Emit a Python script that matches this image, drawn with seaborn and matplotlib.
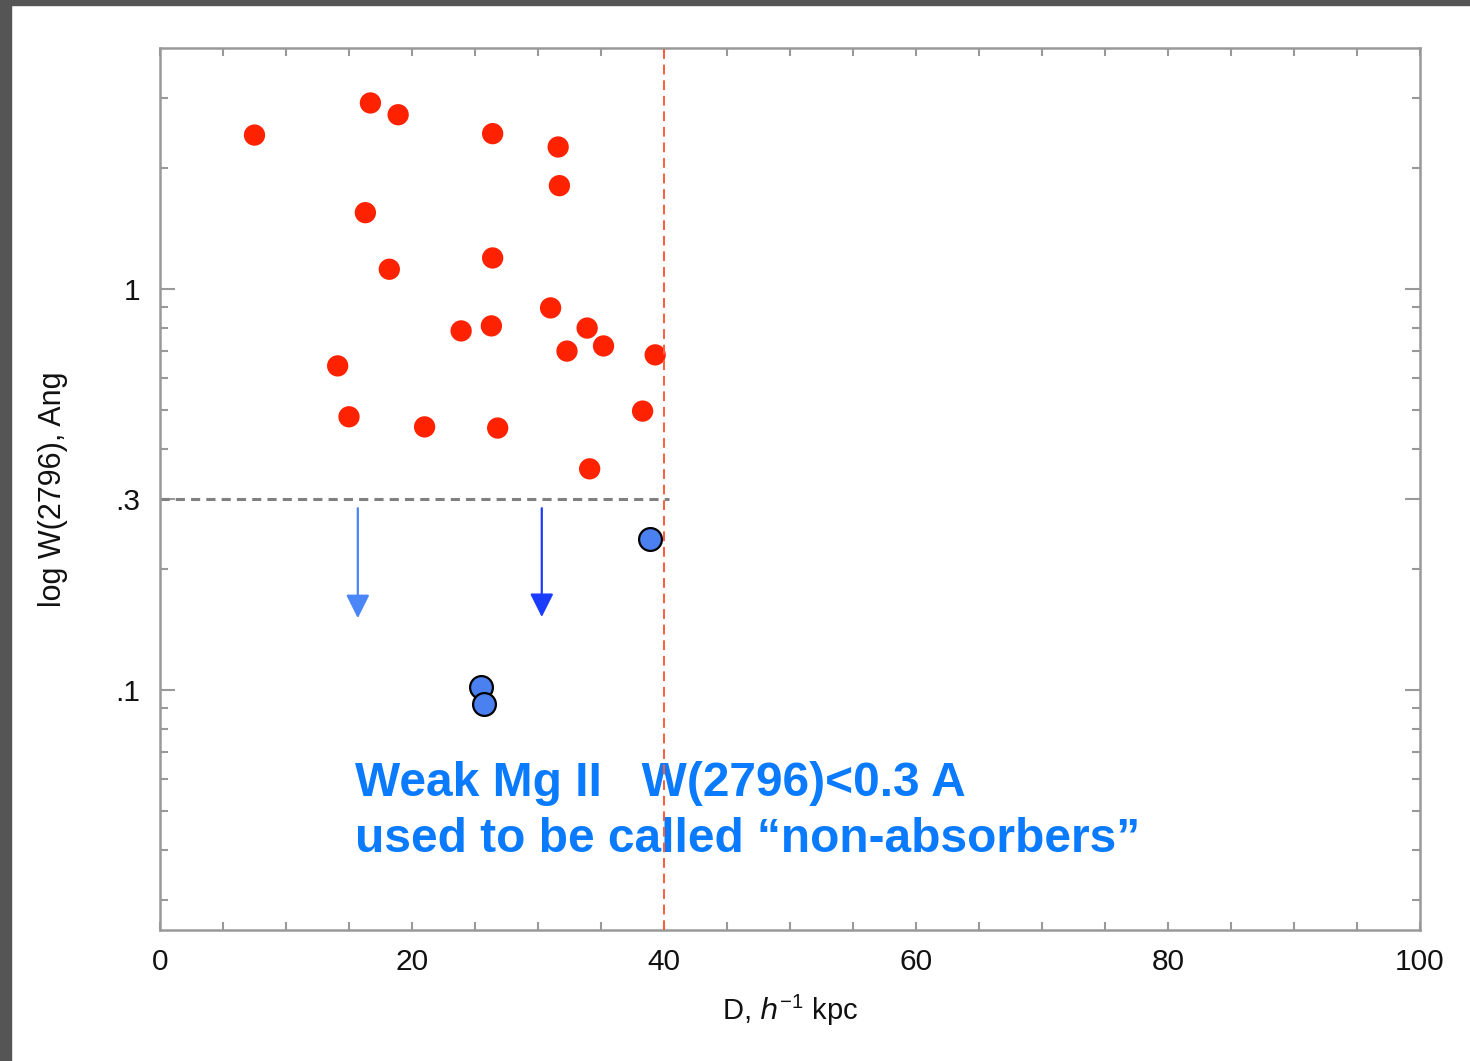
import numpy as np
import pandas as pd
import matplotlib
matplotlib.use("Agg")
import matplotlib.pyplot as plt
import seaborn as sns
from matplotlib.patches import Rectangle
from matplotlib.ticker import FixedLocator, LogLocator, NullFormatter, MultipleLocator

# Strong Mg II absorbers (W > 0.3 A)
strong_d = [7.5, 16.7, 18.9, 26.4, 31.6, 31.7, 16.3, 26.4, 18.2, 31.0, 23.9,
            26.3, 33.9, 32.3, 35.2, 39.3, 14.1, 15.0, 21.0, 26.8, 38.3, 34.1]
strong_w = [2.42, 2.91, 2.72, 2.44, 2.26, 1.81, 1.55, 1.195, 1.12, 0.897, 0.786,
            0.809, 0.799, 0.700, 0.721, 0.685, 0.643, 0.480, 0.453, 0.450, 0.496, 0.356]

# Weak Mg II detections
weak_d = [38.9, 25.5, 25.7]
weak_w = [0.238, 0.102, 0.092]

# Upper limits (arrows)
limit_d = [15.7, 30.3]
limit_top = [0.284, 0.284]
limit_tip = [0.151, 0.152]
limit_colors = ["#4a86f8", "#1a3cff"]

W_CUT = 0.3
D_CUT = 40

strong = pd.DataFrame({"D": strong_d, "W": strong_w})
weak = pd.DataFrame({"D": weak_d, "W": weak_w})

sns.set_style("ticks")
plt.rcParams["font.family"] = ["Liberation Sans", "DejaVu Sans"]

fig = plt.figure(figsize=(14.7, 10.61), dpi=100)
ax = fig.add_axes([160 / 1470, 131 / 1061, 1260 / 1470, 882 / 1061])

# dark frame from the slide screenshot
fig.patches.append(Rectangle((0, 0), 11 / 1470, 1, transform=fig.transFigure,
                             color="#555555", zorder=-1))
fig.patches.append(Rectangle((0, 1 - 5 / 1061), 1, 5 / 1061, transform=fig.transFigure,
                             color="#555555", zorder=-1))

sns.scatterplot(data=strong, x="D", y="W", ax=ax, color="#ff2200", s=235,
                edgecolor="none", zorder=3)
sns.scatterplot(data=weak, x="D", y="W", ax=ax, color="#4a80f0", s=270,
                edgecolor="black", linewidth=1.6, zorder=4)

for d, top, tip, c in zip(limit_d, limit_top, limit_tip, limit_colors):
    ax.annotate("", xy=(d, tip), xytext=(d, top),
                arrowprops=dict(arrowstyle="-|>,head_length=0.72,head_width=0.36",
                                mutation_scale=20, color=c, lw=1.6,
                                shrinkA=0, shrinkB=0))

ax.plot([0, 40.4], [W_CUT, W_CUT], color="#808080", lw=2.2, ls=(0, (3, 2)), zorder=2)
ax.axvline(D_CUT, color="#ff5a3c", lw=1.4, ls=(0, (5, 3)), zorder=6)

ax.set_yscale("log")
ax.set_xlim(0, 100)
ax.set_ylim(0.0252, 3.99)

ax.xaxis.set_major_locator(MultipleLocator(20))
ax.xaxis.set_minor_locator(MultipleLocator(5))
ax.yaxis.set_major_locator(FixedLocator([0.1, 0.3, 1]))
ax.yaxis.set_minor_locator(LogLocator(base=10, subs=np.arange(2, 10)))
ax.yaxis.set_minor_formatter(NullFormatter())
ax.set_yticklabels([".1", ".3", "1"])

ax.tick_params(axis="both", which="both", direction="in", top=True, right=True,
               color="#999999", width=1.5, labelsize=21.5, labelcolor="#111111")
ax.tick_params(axis="x", which="both", length=6, pad=13)
ax.tick_params(axis="y", which="major", length=11, pad=14)
ax.tick_params(axis="y", which="minor", length=6)
for sp in ax.spines.values():
    sp.set_color("#999999")
    sp.set_linewidth(1.8)

ax.set_xlabel(r"D, $h^{\mathregular{-1}}$ kpc", fontsize=21, color="#111111", labelpad=12)
ax.set_ylabel("log W(2796), Ang", fontsize=22, color="#111111", labelpad=34)

ax.text(15.5, 0.0665, "Weak Mg II   W(2796)<0.3 A\nused to be called \u201cnon-absorbers\u201d",
        fontsize=34.5, fontweight="bold", color="#0a7aff", va="top", ha="left",
        linespacing=1.3, zorder=5)

fig.savefig("out.png", dpi=100, facecolor="white")
